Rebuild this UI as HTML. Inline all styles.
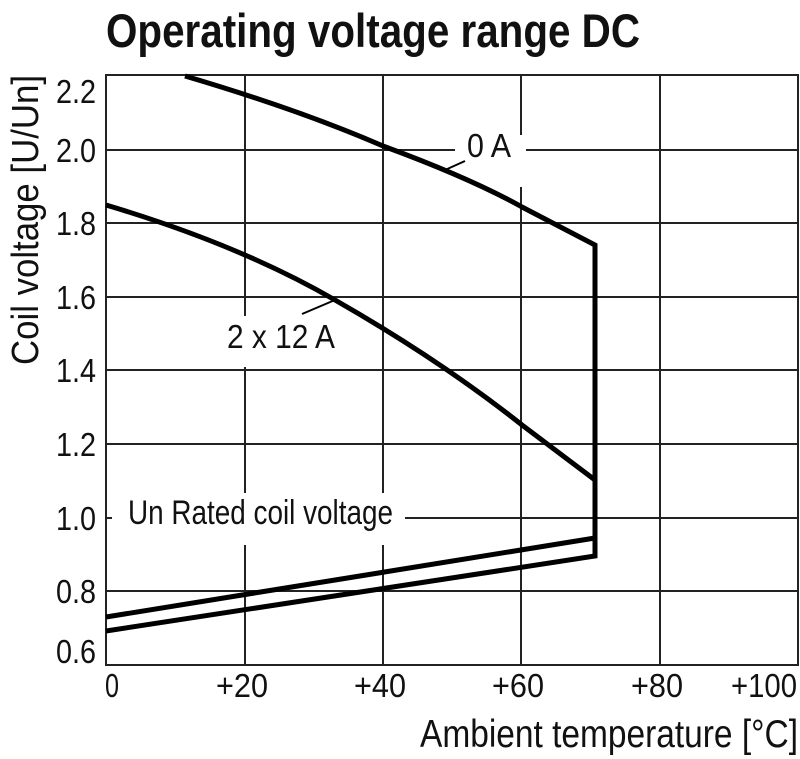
<!DOCTYPE html>
<html><head><style>
html,body{margin:0;padding:0;background:#fff;}
svg{display:block;}
text{font-family:"Liberation Sans",sans-serif;fill:#111;}
</style></head><body>
<svg width="800" height="759" viewBox="0 0 800 759" xmlns="http://www.w3.org/2000/svg">
<text x="106" y="47" font-size="47" font-weight="bold" textLength="534" lengthAdjust="spacingAndGlyphs">Operating voltage range DC</text>
<g stroke="#222" stroke-width="2" fill="none">
<rect x="106" y="75" width="692" height="590"/>
<line x1="106" y1="150" x2="798" y2="150"/>
<line x1="106" y1="223" x2="798" y2="223"/>
<line x1="106" y1="297" x2="798" y2="297"/>
<line x1="106" y1="370" x2="798" y2="370"/>
<line x1="106" y1="444" x2="798" y2="444"/>
<line x1="106" y1="518" x2="798" y2="518"/>
<line x1="106" y1="591" x2="798" y2="591"/>
<line x1="245" y1="75" x2="245" y2="665"/>
<line x1="383" y1="75" x2="383" y2="665"/>
<line x1="521" y1="75" x2="521" y2="665"/>
<line x1="660" y1="75" x2="660" y2="665"/>
</g>
<rect x="455" y="135" width="71" height="52" fill="#fff"/>
<rect x="210" y="316" width="135" height="51" fill="#fff"/>
<rect x="110" y="493" width="295" height="52" fill="#fff"/>
<line x1="105" y1="518" x2="112" y2="518" stroke="#222" stroke-width="2"/>
<g stroke="#000" stroke-width="5" fill="none" stroke-linejoin="miter">
<path d="M185,76 Q300,110 383,146 Q470,178 522,207 L595,245 L595,556 L106,631"/>
<path d="M595,538 L106,617"/>
<path d="M106,205 Q240,245 335,300 Q440,360 522,425 L595,480"/>
</g>
<g stroke="#000" stroke-width="2">
<line x1="445" y1="170" x2="465" y2="161"/>
<line x1="302" y1="314" x2="335" y2="300"/>
</g>
<text x="467" y="157" font-size="33" textLength="44" lengthAdjust="spacingAndGlyphs">0 A</text>
<text x="227" y="348" font-size="33" textLength="108" lengthAdjust="spacingAndGlyphs">2 x 12 A</text>
<text x="128" y="524" font-size="34" textLength="265" lengthAdjust="spacingAndGlyphs">Un Rated coil voltage</text>
<g font-size="33" text-anchor="end">
<text x="96" y="103" textLength="40" lengthAdjust="spacingAndGlyphs">2.2</text>
<text x="96" y="162" textLength="40" lengthAdjust="spacingAndGlyphs">2.0</text>
<text x="96" y="235" textLength="40" lengthAdjust="spacingAndGlyphs">1.8</text>
<text x="96" y="309" textLength="40" lengthAdjust="spacingAndGlyphs">1.6</text>
<text x="96" y="382" textLength="40" lengthAdjust="spacingAndGlyphs">1.4</text>
<text x="96" y="456" textLength="40" lengthAdjust="spacingAndGlyphs">1.2</text>
<text x="96" y="530" textLength="40" lengthAdjust="spacingAndGlyphs">1.0</text>
<text x="96" y="603" textLength="40" lengthAdjust="spacingAndGlyphs">0.8</text>
<text x="96" y="663" textLength="40" lengthAdjust="spacingAndGlyphs">0.6</text>
</g>
<g font-size="33" text-anchor="middle">
<text x="112" y="697" textLength="14" lengthAdjust="spacingAndGlyphs">0</text>
<text x="242" y="697" textLength="52" lengthAdjust="spacingAndGlyphs">+20</text>
<text x="380" y="697" textLength="52" lengthAdjust="spacingAndGlyphs">+40</text>
<text x="518" y="697" textLength="52" lengthAdjust="spacingAndGlyphs">+60</text>
<text x="657" y="697" textLength="52" lengthAdjust="spacingAndGlyphs">+80</text>
<text x="764" y="697" textLength="66" lengthAdjust="spacingAndGlyphs">+100</text>
</g>
<text x="420" y="747" font-size="39" textLength="378" lengthAdjust="spacingAndGlyphs">Ambient temperature [°C]</text>
<text transform="translate(38 365) rotate(-90)" font-size="38" textLength="290" lengthAdjust="spacingAndGlyphs">Coil voltage [U/Un]</text>
</svg>
</body></html>
